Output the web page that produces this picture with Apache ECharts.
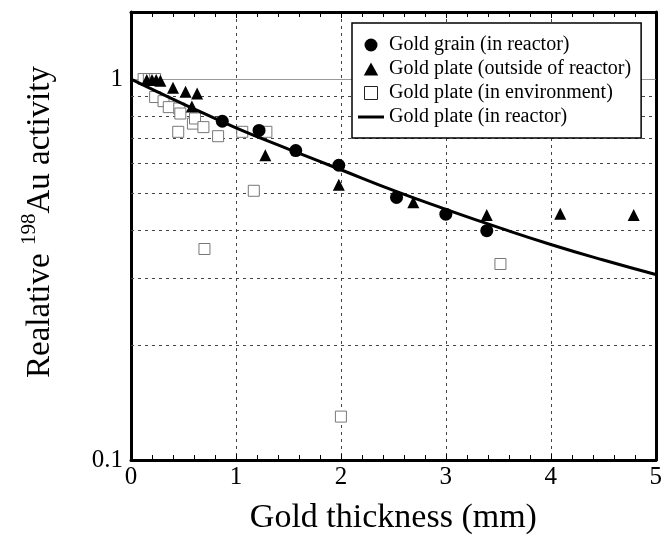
<!DOCTYPE html>
<html>
<head>
<meta charset="utf-8">
<script src="https://cdn.jsdelivr.net/npm/echarts@6/dist/echarts.min.js"></script>
<style>html,body{margin:0;padding:0;background:#fff}#c{width:665px;height:552px}</style>
</head>
<body>
<div id="c"></div>
<script>
var grainX = [0.87, 1.22, 1.57, 1.98, 2.53, 3.0, 3.39];
var grainY = [0.775, 0.733, 0.649, 0.594, 0.489, 0.442, 0.400];

var outsideX = [0.15, 0.2, 0.24, 0.28, 0.40, 0.52, 0.58, 0.63, 1.28, 1.98, 2.69, 3.39, 4.09, 4.79];
var outsideY = [0.995, 0.995, 0.995, 0.99, 0.949, 0.926, 0.847, 0.917, 0.631, 0.528, 0.475, 0.44, 0.443, 0.44];

var envX = [0.12, 0.17, 0.23, 0.23, 0.31, 0.36, 0.46, 0.47, 0.59, 0.61, 0.69, 0.45, 0.83, 1.06, 1.29, 1.17, 0.70, 2.0, 3.52];
var envY = [1.0, 1.0, 1.0, 0.897, 0.875, 0.844, 0.837, 0.812, 0.764, 0.788, 0.748, 0.727, 0.708, 0.727, 0.727, 0.509, 0.358, 0.13, 0.327];

var fitX = [0, 0.5, 1, 1.5, 2, 2.5, 3, 3.5, 4, 4.5, 5];
var fitY = [1.0, 0.86, 0.745, 0.655, 0.578, 0.51, 0.455, 0.408, 0.368, 0.335, 0.307];

var gridMinorY = [0.2, 0.3, 0.4, 0.5, 0.6, 0.7, 0.8, 0.9];
var yTickLabels = [0.1, 1];

var seriesNames = ['Gold grain (in reactor)', 'Gold plate (outside of reactor)', 'Gold plate (in environment)', 'Gold plate (in reactor)'];

function zip(xs, ys) { return xs.map(function (x, i) { return [x, ys[i]]; }); }

var FONT = 'Liberation Serif';
var chart = echarts.init(document.getElementById('c'));

var markLines = gridMinorY.map(function (v) {
  return { yAxis: v, lineStyle: { type: [3, 4], color: '#444', width: 1 } };
});
markLines.push({ yAxis: 1, lineStyle: { type: 'solid', color: '#999', width: 1 } });

chart.setOption({
  animation: false,
  backgroundColor: '#fff',
  grid: { left: 131, right: 6, top: 12, bottom: 92, show: false },
  legend: {
    orient: 'vertical',
    left: 352, top: 23,
    backgroundColor: '#fff',
    borderColor: '#000', borderWidth: 1.5,
    padding: [12, 10, 11, 6],
    itemGap: 4,
    itemWidth: 26, itemHeight: 13,
    symbolKeepAspect: true,
    textStyle: { fontFamily: FONT, fontSize: 20, color: '#000' },
    data: [
      { name: seriesNames[0], icon: 'circle', itemStyle: { color: '#000', opacity: 1 } },
      { name: seriesNames[1], icon: 'path://M5,0L10,9L0,9Z', itemStyle: { color: '#000', opacity: 1 } },
      { name: seriesNames[2], icon: 'path://M0,0h10v10h-10z', itemStyle: { color: '#fff', borderColor: '#222', borderWidth: 1, opacity: 1 } },
      { name: seriesNames[3], icon: 'path://M0,0h26v3h-26z', itemStyle: { color: '#000', opacity: 1 } }
    ]
  },
  xAxis: [{
    type: 'value', min: 0, max: 5, interval: 1, position: 'bottom',
    axisLine: { show: true, onZero: false, lineStyle: { color: '#000', width: 3 } },
    axisTick: { show: true, inside: true, length: 6, lineStyle: { color: '#000' } },
    minorTick: { show: true, splitNumber: 5, length: 5, lineStyle: { color: '#000' } },
    axisLabel: { fontFamily: FONT, fontSize: 25, color: '#000', margin: 5, showMinLabel: true, showMaxLabel: true },
    splitLine: { show: true, lineStyle: { type: [3, 4], color: '#444', width: 1 } },
    name: 'Gold thickness (mm)', nameLocation: 'middle', nameGap: 41,
    nameTextStyle: { fontFamily: FONT, fontSize: 34, color: '#000' }
  }, {
    type: 'value', min: 0, max: 5, interval: 1, position: 'top',
    axisLine: { show: true, onZero: false, lineStyle: { color: '#000', width: 3 } },
    axisTick: { show: true, inside: true, length: 6, lineStyle: { color: '#000' } },
    minorTick: { show: true, splitNumber: 5, length: 5, lineStyle: { color: '#000' } },
    axisLabel: { show: false },
    splitLine: { show: false }
  }],
  yAxis: [{
    type: 'log', logBase: 10, min: 0.1, max: 1.5, position: 'left',
    axisLine: { show: true, onZero: false, lineStyle: { color: '#000', width: 3 } },
    axisTick: { show: false },
    axisLabel: {
      fontFamily: FONT, fontSize: 25, color: '#000', margin: 8,
      formatter: function (v) {
        for (var i = 0; i < yTickLabels.length; i++) {
          if (Math.abs(v - yTickLabels[i]) < 1e-9) return String(yTickLabels[i]);
        }
        return '';
      }
    },
    splitLine: { show: false },
    name: '{m|Realative }{s|198}{m|Au activity}', nameLocation: 'middle', nameGap: 74,
    nameTextStyle: {
      fontFamily: FONT, color: '#000',
      padding: [0, 0, 0, 28],
      rich: {
        m: { fontFamily: FONT, fontSize: 33, color: '#000', lineHeight: 38, verticalAlign: 'bottom' },
        s: { fontFamily: FONT, fontSize: 21, color: '#000', lineHeight: 38, verticalAlign: 'top' }
      }
    }
  }, {
    type: 'log', logBase: 10, min: 0.1, max: 1.5, position: 'right',
    axisLine: { show: true, onZero: false, lineStyle: { color: '#000', width: 3 } },
    axisTick: { show: false }, axisLabel: { show: false }, splitLine: { show: false }
  }],
  series: [{
    name: seriesNames[2], type: 'scatter', z: 2,
    symbol: 'rect', symbolSize: 11,
    itemStyle: { color: '#fff', borderColor: '#777', borderWidth: 1, opacity: 1 },
    data: zip(envX, envY),
    markLine: { silent: true, symbol: 'none', label: { show: false }, z: 1, data: markLines }
  }, {
    name: seriesNames[3], type: 'line', z: 3, smooth: true,
    symbol: 'none', showSymbol: false,
    lineStyle: { color: '#000', width: 3 }, itemStyle: { color: '#000' },
    data: zip(fitX, fitY)
  }, {
    name: seriesNames[0], type: 'scatter', z: 4,
    symbol: 'circle', symbolSize: 13,
    itemStyle: { color: '#000', opacity: 1 },
    data: zip(grainX, grainY)
  }, {
    name: seriesNames[1], type: 'scatter', z: 4,
    symbol: 'triangle', symbolSize: 12,
    itemStyle: { color: '#000', opacity: 1 },
    data: zip(outsideX, outsideY)
  }]
});
</script>
</body>
</html>
